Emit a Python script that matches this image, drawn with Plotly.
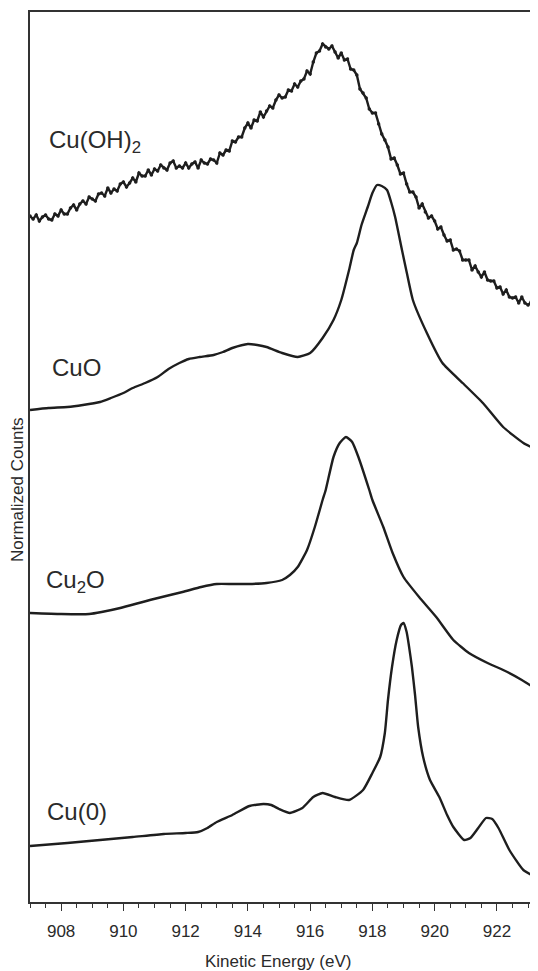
import plotly.graph_objects as go

# ---------------- data ----------------
# Cu(OH)2 : 0.1 eV steps from 907.0 to 923.3
cuoh2_energy = [round(907.0 + 0.1 * i, 1) for i in range(164)]
cuoh2_counts = [
    784, 781, 785, 779, 783, 785, 781, 780, 786, 784,
    790, 786, 786, 792, 795, 790, 796, 799, 796, 803,
    801, 799, 806, 807, 804, 812, 807, 811, 809, 816,
    818, 813, 817, 822, 818, 827, 824, 824, 830, 825,
    831, 829, 835, 832, 830, 837, 839, 832, 834, 832,
    837, 832, 836, 838, 832, 840, 837, 836, 841, 840,
    837, 847, 845, 850, 849, 859, 858, 863, 863, 872,
    877, 872, 880, 879, 888, 883, 889, 894, 892, 900,
    905, 902, 903, 910, 909, 916, 913, 919, 921, 929,
    926, 938, 947, 949, 956, 953, 951, 954, 948, 942,
    947, 940, 941, 931, 930, 925, 911, 907, 902, 891,
    887, 887, 876, 866, 860, 853, 841, 842, 835, 826,
    827, 816, 808, 808, 803, 792, 796, 788, 782, 784,
    779, 771, 773, 765, 759, 760, 750, 751, 749, 740,
    740, 740, 730, 734, 728, 723, 728, 720, 719, 719,
    712, 713, 706, 710, 703, 702, 703, 697, 703, 697,
    695, 698, 690, 693,
]

cuo_energy = [907.0, 907.6, 908.2, 908.7, 909.25, 909.6, 910.0, 910.3, 910.7,
              911.1, 911.45, 911.8, 912.1, 912.45, 912.9, 913.2, 913.5, 914.0,
              914.3, 914.6, 915.1, 915.6, 916.0, 916.4, 916.75, 917.0, 917.25,
              917.4, 917.5, 917.65, 917.85, 918.0, 918.15, 918.3, 918.47,
              918.6, 918.73, 918.95, 919.1, 919.3, 919.75, 920.25, 920.9,
              921.55, 922.2, 922.85, 923.3]
cuo_counts = [590, 592, 593, 595, 598, 602, 607, 612, 617,
              623, 631, 637, 641, 643, 645, 648, 652, 656,
              655, 653, 647, 643, 647, 662, 680, 700, 730,
              750, 757, 775, 793, 807, 815, 814, 810,
              798, 783, 750, 728, 700, 667, 637, 617,
              597, 573, 557, 550]

cu2o_energy = [907.0, 908.0, 908.9, 909.3, 909.9, 910.85, 911.9, 912.5,
               913.0, 913.5, 914.0, 914.6, 915.1, 915.35, 915.6, 915.9,
               916.15, 916.4, 916.5, 916.75, 916.95, 917.15, 917.35, 917.55,
               917.9, 918.0, 918.35, 918.65, 919.0, 919.5, 920.05, 920.6,
               921.1, 921.7, 922.2, 922.8, 923.3]
cu2o_counts = [387, 386, 386, 388, 392, 400, 408, 413,
               416, 416, 416, 417, 420, 425, 433, 450,
               473, 500, 510, 543, 557, 563, 558, 543,
               510, 500, 473, 447, 423, 403, 383, 360,
               347, 337, 330, 320, 310]

cu0_energy = [907.0, 908.2, 909.25, 910.3, 911.3, 912.0, 912.4, 912.7,
              913.0, 913.5, 914.05, 914.5, 914.75, 915.0, 915.35, 915.75,
              916.1, 916.4, 916.8, 917.25, 917.7, 918.0, 918.25, 918.4, 918.5,
              918.63, 918.78, 918.92, 919.0, 919.1, 919.17, 919.27, 919.37,
              919.47, 919.63, 919.85, 920.15, 920.4, 920.6, 920.95, 921.15,
              921.4, 921.65, 921.85, 922.05, 922.4, 922.85, 923.3]
cu0_counts = [154, 157, 160, 163, 166, 167, 168, 172,
              178, 185, 194, 196, 195, 191, 187, 192,
              203, 207, 203, 200, 210, 227, 243, 267, 300,
              333, 360, 375, 377, 368, 355, 333, 305,
              273, 243, 220, 203, 185, 173, 160, 162,
              172, 182, 181, 172, 150, 130, 122]

series_labels = ["Cu(OH)<sub>2</sub>", "CuO", "Cu<sub>2</sub>O", "Cu(0)"]
x_tick_values = [908, 910, 912, 914, 916, 918, 920, 922]
x_title = "Kinetic Energy (eV)"
y_title = "Normalized Counts"

# ---------------- figure ----------------
LINE_COLOR = "#1e1e1e"
TEXT_COLOR = "#2a2a2a"
FONT = "Liberation Sans, Arial, sans-serif"

fig = go.Figure()
for xs, ys, shape, mode in [
    (cuoh2_energy, cuoh2_counts, "linear", "lines+markers"),
    (cuo_energy, cuo_counts, "spline", "lines"),
    (cu2o_energy, cu2o_counts, "spline", "lines"),
    (cu0_energy, cu0_counts, "spline", "lines"),
]:
    fig.add_trace(go.Scatter(
        x=xs, y=ys, mode=mode,
        line=dict(color=LINE_COLOR, width=2.4, shape=shape, smoothing=0.5),
        marker=dict(color=LINE_COLOR, size=3.5),
        showlegend=False, hoverinfo="skip",
    ))

label_pos = [(0.033, 0.855), (0.039, 0.601), (0.028, 0.360), (0.030, 0.102)]
for text, (lx, ly) in zip(series_labels, label_pos):
    fig.add_annotation(
        x=lx, y=ly, xref="paper", yref="paper", text=text,
        xanchor="left", yanchor="middle", showarrow=False,
        font=dict(family=FONT, size=24, color=TEXT_COLOR),
    )

fig.add_annotation(
    x=-0.0236, y=0.463, xref="paper", yref="paper", text=y_title,
    textangle=-90, showarrow=False, xanchor="center", yanchor="middle",
    font=dict(family=FONT, size=17, color=TEXT_COLOR),
)
fig.add_annotation(
    x=0.489, y=-0.0674, xref="paper", yref="paper", text=x_title,
    showarrow=False, xanchor="center", yanchor="middle",
    font=dict(family=FONT, size=17, color=TEXT_COLOR),
)

# the page body has an 8px margin: figure size/margins compensate for it
fig.update_layout(
    width=530, height=963,
    margin=dict(l=22, r=0, t=4, b=69),
    paper_bgcolor="white", plot_bgcolor="white",
    font=dict(family=FONT, size=17, color=TEXT_COLOR),
)
fig.update_xaxes(
    range=[907.0, 923.32], showgrid=False, zeroline=False,
    showline=True, linecolor="#333333", linewidth=1.5, mirror=True,
    tickmode="array", tickvals=x_tick_values,
    ticks="outside", ticklen=7, tickwidth=1.2, tickcolor="#333333",
    ticklabelstandoff=6,
    tickfont=dict(family=FONT, size=17, color=TEXT_COLOR),
    minor=dict(dtick=0.5, tick0=907, ticks="outside", ticklen=4,
               tickwidth=1, tickcolor="#333333", showgrid=False),
)
fig.update_yaxes(
    range=[98, 988], showgrid=False, zeroline=False,
    showline=True, linecolor="#333333", linewidth=1.5, mirror=False,
    showticklabels=False, ticks="",
)

fig.write_html("out.html")
